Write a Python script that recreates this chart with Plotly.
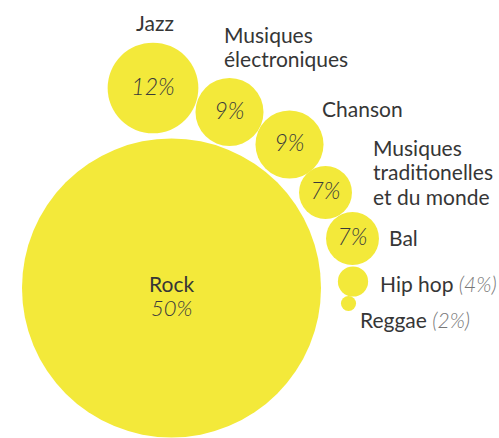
import plotly.graph_objects as go

# Genres and their share (%)
genres = ["Rock", "Jazz", "Musiques<br>électroniques", "Chanson",
          "Musiques<br>traditionelles<br>et du monde", "Bal", "Hip hop", "Reggae"]
shares = [50, 12, 9, 9, 7, 7, 4, 2]

# Bubble layout (pixel space): centres and label anchors (first line centre)
cx = [171.5, 153, 229.5, 289.5, 325.5, 352.5, 353, 348.5]
cy = [288, 88, 112, 144.5, 192.5, 238.5, 281.5, 303.5]
lab_x = [None, 155, 222, 320, 371, 387, 378, 358]
lab_y = [None, 22, 34, 108, 147, 237, 283, 319]

W, H = 499, 438
PX_PER_PCT = 7.56      # bubble diameter per percentage point
MAX_DIAM = 299         # the largest bubble is capped
LINE_H = 24.5          # line spacing for multi-line labels
YELLOW = "#f3e93a"
DARK = "#363636"
PCT = "#3a3a3a"
LABEL_SIZE = 21
PCT_SIZE = 23

diam = [min(v * PX_PER_PCT, MAX_DIAM) for v in shares]

fig = go.Figure()
fig.add_trace(go.Scatter(
    x=cx, y=cy, mode="markers",
    marker=dict(size=diam, sizemode="diameter", sizeref=1,
                color=YELLOW, opacity=1, line=dict(width=0)),
    hoverinfo="skip", showlegend=False,
))

# Percentages inside bubbles (those with room for them)
inside = [i for i, v in enumerate(shares) if 5 < v < 50]
fig.add_trace(go.Scatter(
    x=[cx[i] for i in inside], y=[cy[i] + 1 for i in inside],
    mode="text", text=[f"{shares[i]}%" for i in inside],
    textposition="middle center",
    textfont=dict(family="Lato", size=PCT_SIZE, color=PCT,
                  style="italic", weight=300),
    hoverinfo="skip", showlegend=False,
))

ann = []
# Largest bubble: name and share in the centre
ann.append(dict(x=cx[0], y=283, text=genres[0], showarrow=False,
                xanchor="center", yanchor="middle",
                font=dict(family="Lato", size=LABEL_SIZE, color=DARK, weight=400)))
ann.append(dict(x=cx[0], y=307, text=f"{shares[0]}%", showarrow=False,
                xanchor="center", yanchor="middle",
                font=dict(family="Lato", size=PCT_SIZE - 1, color=PCT,
                          style="italic", weight=300)))

for i in range(1, len(genres)):
    lines = genres[i].split("<br>")
    if shares[i] <= 5:
        lines[-1] += (f" <span style='font-style:italic;font-weight:300;color:#777777'>"
                      f"({shares[i]}%)</span>")
    for k, line in enumerate(lines):
        ann.append(dict(x=lab_x[i], y=lab_y[i] + k * LINE_H, text=line,
                        showarrow=False,
                        xanchor="center" if i == 1 else "left", yanchor="middle",
                        font=dict(family="Lato", size=LABEL_SIZE, color=DARK,
                                  weight=400)))

fig.update_layout(
    width=W, height=H,
    margin=dict(l=0, r=0, t=0, b=0),
    paper_bgcolor="white", plot_bgcolor="white",
    xaxis=dict(range=[0, W], visible=False, fixedrange=True),
    yaxis=dict(range=[H, 0], visible=False, fixedrange=True),
    annotations=ann,
)

fig.write_html("out.html")
